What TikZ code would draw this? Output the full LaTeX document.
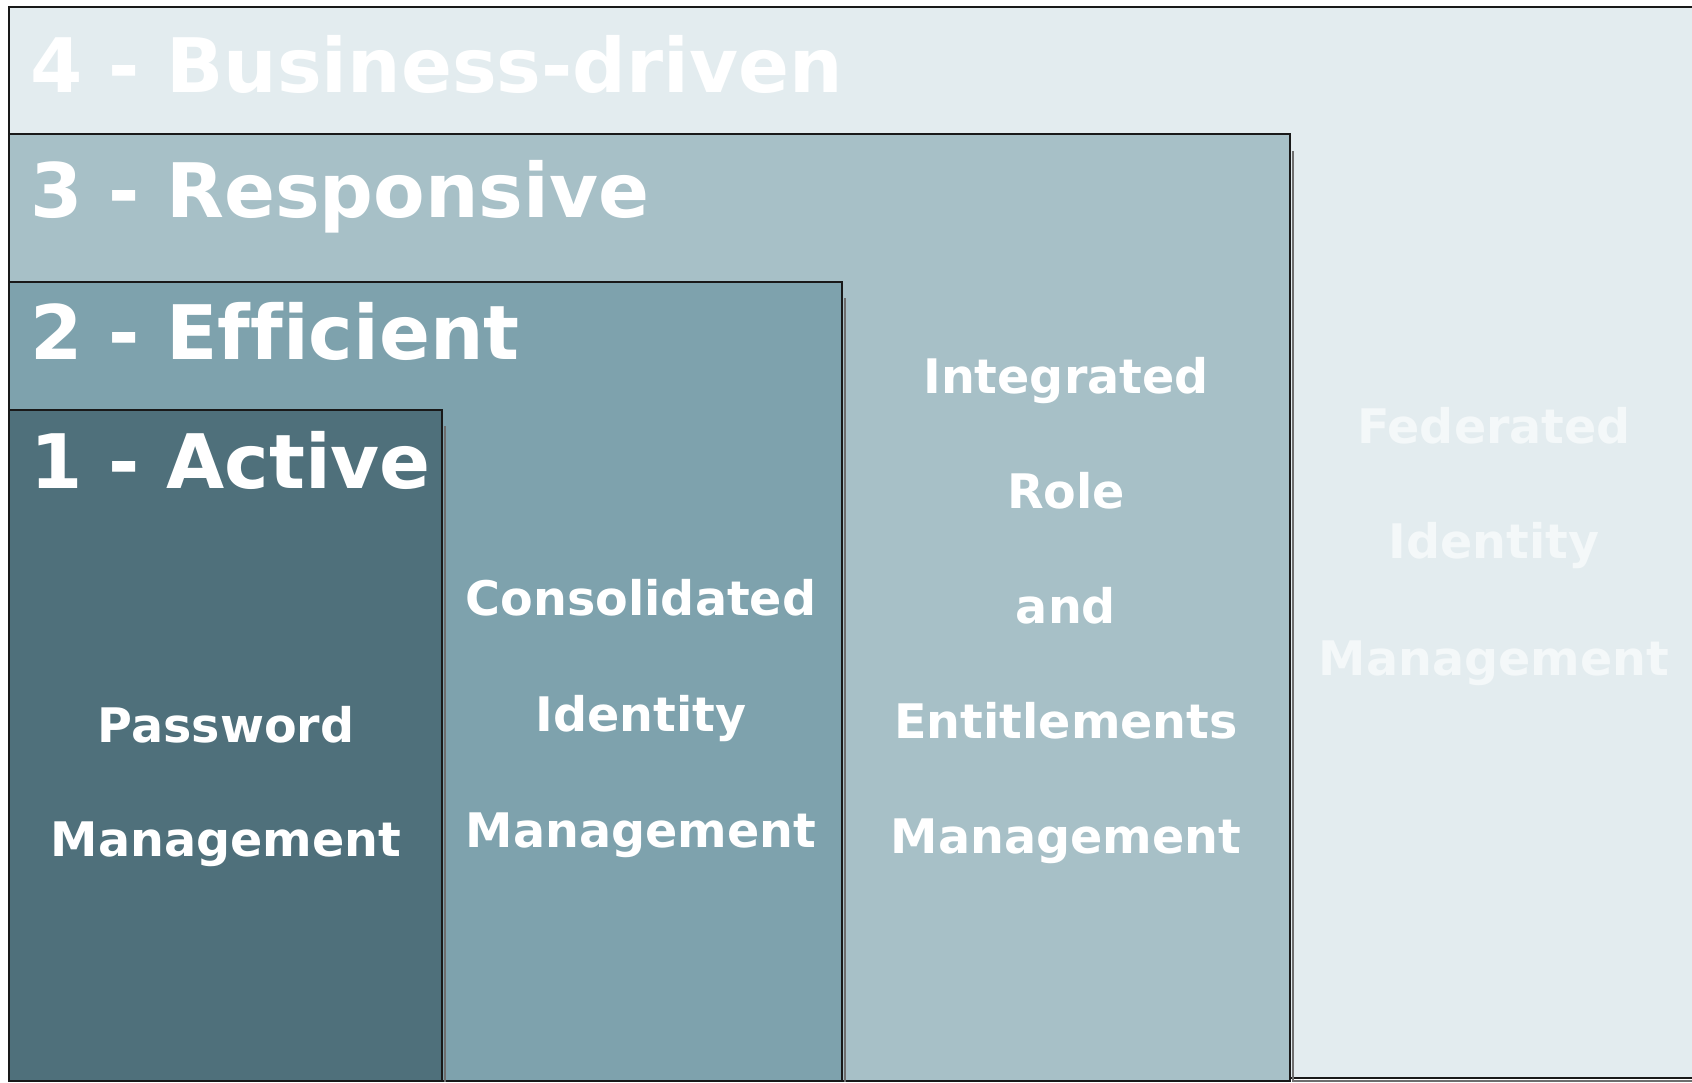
\documentclass[tikz,border=0pt]{standalone}
\usepackage{fontspec}
\setmainfont[Ligatures=NoCommon]{DejaVu Sans}
\definecolor{cfour}{HTML}{E3ECEF}
\definecolor{cthree}{HTML}{A7C0C7}
\definecolor{ctwo}{HTML}{7EA2AD}
\definecolor{cone}{HTML}{4F707B}
\definecolor{cfed}{HTML}{F4F8F9}
\definecolor{cshadow}{HTML}{6E6E6E}
\begin{document}
\begin{tikzpicture}[x=0.5pt,y=-0.5pt,
  lvlbox/.style={draw=black!90, line width=1pt},
  shadowline/.style={draw=cshadow, line width=1pt},
  title/.style={anchor=base west, inner sep=0pt, text=white,
    font=\fontsize{37.6}{44}\selectfont\bfseries},
  item/.style={anchor=base, inner sep=0pt, text=white,
    font=\fontsize{23.8}{28}\selectfont\bfseries},
  feditem/.style={item, text=cfed}]
\useasboundingbox[fill=white] (0,0) rectangle (1692,1082);
% level 4
\fill[cfour] (9,7) rectangle (1710,1078);
\draw[lvlbox] (1710,7) -- (9,7) -- (9,1078) -- (1710,1078);
\draw[shadowline] (1292,1080.5) -- (1710,1080.5);
% level 3
\draw[lvlbox, fill=cthree] (9,134) rectangle (1290,1081);
\draw[shadowline] (1292.5,151) -- (1292.5,1082);
% level 2
\draw[lvlbox, fill=ctwo] (9,282) rectangle (842,1081);
\draw[shadowline] (844.5,298) -- (844.5,1082);
% level 1
\draw[lvlbox, fill=cone] (9,410) rectangle (442,1081);
\draw[shadowline] (444.5,426) -- (444.5,1082);
% titles
\node[title] (t4) at (30,92) {4 - Business-driven};
\node[title] (t3) at (30,217) {3 - Responsive};
\node[title] (t2) at (30,359) {2 - Efficient};
\node[title] (t1) at (30,488) {1 - Active};
% level 1 content
\node[item] (pw1) at (226,742) {Password};
\node[item] (pw2) at (226,856) {Management};
% level 2 content
\node[item] (ci1) at (641,615) {Consolidated};
\node[item] (ci2) at (641,731) {Identity};
\node[item] (ci3) at (641,847) {Management};
% level 3 content
\node[item] (ir1) at (1066,393) {Integrated};
\node[item] (ir2) at (1066,508) {Role};
\node[item] (ir3) at (1066,623) {and};
\node[item] (ir4) at (1066,738) {Entitlements};
\node[item] (ir5) at (1066,853) {Management};
% level 4 content
\node[feditem] (fi1) at (1494,443) {Federated};
\node[feditem] (fi2) at (1494,558) {Identity};
\node[feditem] (fi3) at (1494,675) {Management};
\end{tikzpicture}
\end{document}
